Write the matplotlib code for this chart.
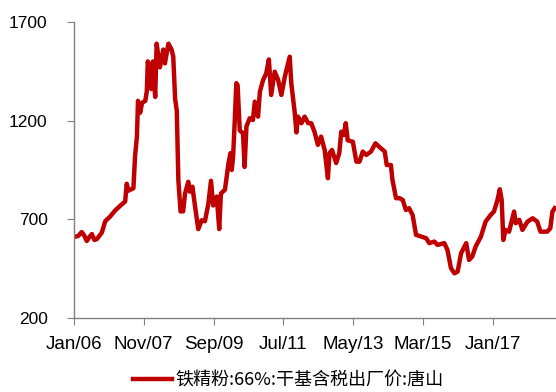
import numpy as np
import pandas as pd
import matplotlib
matplotlib.use('Agg')
import matplotlib.pyplot as plt
import matplotlib.dates as mdates

# Tangshan 66% iron concentrate, ex-works price incl. tax (RMB/t)
dates = [
    '2006-01-01', '2006-02-10', '2006-03-16', '2006-04-07', '2006-05-04', '2006-06-01',
    '2006-06-22', '2006-07-16', '2006-08-10', '2006-09-07', '2006-09-25', '2006-10-28',
    '2006-12-16', '2007-02-01', '2007-04-04', '2007-05-07', '2007-05-22', '2007-06-07',
    '2007-07-25', '2007-08-10', '2007-08-28', '2007-09-07', '2007-09-28', '2007-10-16',
    '2007-11-16', '2007-12-01', '2007-12-10', '2008-01-01', '2008-01-13', '2008-01-28',
    '2008-02-19', '2008-03-04', '2008-04-04', '2008-05-07', '2008-05-22', '2008-06-25',
    '2008-07-25', '2008-08-10', '2008-08-28', '2008-09-13', '2008-09-28', '2008-10-19',
    '2008-11-13', '2008-12-01', '2009-01-01', '2009-01-16', '2009-02-10', '2009-03-07',
    '2009-04-07', '2009-05-10', '2009-06-10', '2009-07-13', '2009-08-07', '2009-08-28',
    '2009-10-01', '2009-10-25', '2009-11-10', '2009-12-19', '2010-01-22', '2010-02-10',
    '2010-02-22', '2010-03-07', '2010-03-22', '2010-04-07', '2010-04-19', '2010-05-10',
    '2010-06-10', '2010-06-25', '2010-07-13', '2010-08-13', '2010-09-13', '2010-10-01',
    '2010-11-01', '2010-11-19', '2010-12-19', '2011-01-19', '2011-02-13', '2011-03-07',
    '2011-04-10', '2011-05-13', '2011-06-13', '2011-07-16', '2011-08-16', '2011-09-01',
    '2011-09-16', '2011-10-19', '2011-11-04', '2011-11-19', '2011-12-22', '2012-01-22',
    '2012-02-25', '2012-03-25', '2012-04-25', '2012-05-28', '2012-06-28', '2012-08-01',
    '2012-09-01', '2012-09-16', '2012-10-10', '2012-11-19', '2012-12-19', '2013-01-07',
    '2013-02-01', '2013-02-19', '2013-03-10', '2013-04-28', '2013-06-01', '2013-07-01',
    '2013-08-01', '2013-09-04', '2013-10-19', '2013-12-01', '2014-01-10', '2014-02-28',
    '2014-03-19', '2014-04-28', '2014-05-13', '2014-06-01', '2014-06-16', '2014-07-19',
    '2014-08-19', '2014-09-19', '2014-10-19', '2014-11-22', '2014-12-25', '2015-02-13',
    '2015-04-01', '2015-05-01', '2015-06-19', '2015-07-19', '2015-09-22', '2015-10-22',
    '2015-11-25', '2015-12-28', '2016-01-28', '2016-03-01', '2016-04-19', '2016-05-16',
    '2016-06-16', '2016-07-19', '2016-09-07', '2016-10-22', '2016-12-10', '2017-01-10',
    '2017-02-13', '2017-03-07', '2017-03-25', '2017-04-10', '2017-05-01', '2017-06-04',
    '2017-07-22', '2017-08-07', '2017-09-10', '2017-10-10', '2017-11-28', '2018-01-16',
    '2018-03-01', '2018-04-01', '2018-06-04', '2018-07-04', '2018-07-25', '2018-08-16',
]
price = [
    610, 615, 635, 620, 590, 612,
    625, 595, 600, 620, 632, 690,
    715, 745, 775, 790, 880, 845,
    857, 1020, 1120, 1300, 1240, 1290,
    1300, 1350, 1500, 1450, 1360, 1500,
    1320, 1590, 1470, 1560, 1490, 1590,
    1560, 1525, 1310, 1250, 900, 740,
    740, 830, 890, 840, 865, 765,
    650, 695, 690, 780, 895, 770,
    815, 650, 830, 850, 985, 1035,
    950, 1017, 1190, 1390, 1380, 1150,
    1136, 965, 1170, 1212, 1203, 1296,
    1220, 1347, 1405, 1440, 1510, 1330,
    1448, 1406, 1330, 1423, 1490, 1524,
    1389, 1240, 1140, 1220, 1187, 1220,
    1187, 1187, 1144, 1077, 1119, 1051,
    908, 1035, 1051, 985, 1035, 1144,
    1127, 1187, 1100, 1093, 992, 992,
    1043, 1026, 1043, 1085, 1065, 1043,
    975, 975, 899, 849, 807, 807,
    798, 747, 756, 722, 621, 612,
    604, 579, 587, 570, 579, 545,
    452, 426, 435, 528, 579, 494,
    511, 562, 612, 688, 722, 739,
    798, 852, 798, 595, 646, 637,
    739, 680, 697, 646, 688, 705,
    688, 637, 637, 654, 739, 756,
]
tick_dates = ['2006-01-01', '2007-11-01', '2009-09-01', '2011-07-01',
              '2013-05-01', '2015-03-01', '2017-01-01']
yticks = [200, 700, 1200, 1700]
label = '铁精粉:66%:干基含税出厂价:唐山'

plt.rcParams['font.family'] = ['Liberation Sans', 'Noto Sans CJK SC', 'DejaVu Sans']

x = pd.to_datetime(dates)

fig = plt.figure(figsize=(5.56, 3.92), dpi=100)
ax = fig.add_axes([0.133, 0.189, 0.867, 0.755])

ax.plot(x, price, color='#C00000', lw=3.2, solid_joinstyle='round',
        label=label)

ax.set_ylim(200, 1700)
ax.set_yticks(yticks)
ax.set_xlim(pd.Timestamp('2006-01-01'), pd.Timestamp('2018-08-28'))
ax.set_xticks(pd.to_datetime(tick_dates))
ax.xaxis.set_major_formatter(mdates.DateFormatter('%b/%y'))

for s in ['top', 'right']:
    ax.spines[s].set_visible(False)
for s in ['left', 'bottom']:
    ax.spines[s].set_color('#808080')
    ax.spines[s].set_linewidth(1.0)
ax.tick_params(axis='both', colors='#808080', labelcolor='black',
               length=5, direction='out')
ax.tick_params(axis='y', pad=14, labelsize=12.5)
ax.tick_params(axis='x', pad=8, labelsize=13.5)

# legend sits just under the date labels
fig.legend(loc='center', bbox_to_anchor=(0.518, 0.03), frameon=False,
           handlelength=2.15, handletextpad=0.2,
           prop={'family': ['Noto Sans CJK SC', 'DejaVu Sans'], 'size': 13})

fig.savefig('out.png', dpi=100)
